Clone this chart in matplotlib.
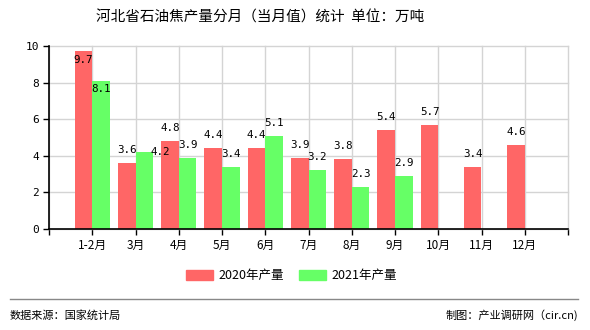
import matplotlib
matplotlib.use("Agg")
import matplotlib.pyplot as plt
from matplotlib.patches import Rectangle
from matplotlib.lines import Line2D
import numpy as np

plt.rcParams['font.family'] = ['Noto Sans CJK SC', 'DejaVu Sans']

categories = ["1-2月", "3月", "4月", "5月", "6月", "7月", "8月", "9月", "10月", "11月", "12月"]
values_2020 = [9.7, 3.6, 4.8, 4.4, 4.4, 3.9, 3.8, 5.4, 5.7, 3.4, 4.6]
values_2021 = [8.1, 4.2, 3.9, 3.4, 5.1, 3.2, 2.3, 2.9, None, None, None]
series_names = ["2020年产量", "2021年产量"]
yticks = [0, 2, 4, 6, 8, 10]

title = "河北省石油焦产量分月（当月值）统计  单位：万吨"
source_left = "数据来源：国家统计局"
source_right = "制图：产业调研网（cir.cn)"

red = "#FF6666"
green = "#66FF66"

fig = plt.figure(figsize=(5.9, 3.3), dpi=100)
ax = fig.add_axes([49/590, 1-229/330, (568-49)/590, (229-46)/330])

x = np.arange(1, len(categories) + 1)
w = 0.405
v20 = np.array(values_2020, dtype=float)
v21 = np.array([np.nan if v is None else v for v in values_2021], dtype=float)

ax.set_axisbelow(True)
ax.grid(True, color="#d4d4d4", linewidth=1, clip_on=False)
b1 = ax.bar(x - w/2, v20, width=w, color=red, zorder=2)
b2 = ax.bar(x + w/2, np.nan_to_num(v21), width=w, color=green, zorder=2)

ax.set_xlim(0, 12)
ax.set_ylim(0, 10)
ax.set_yticks(yticks)
ax.set_xticks(range(0, 13))
ax.set_xticklabels([""] + categories + [""])
ax.tick_params(axis='both', length=4, width=1, color='black', labelsize=8.5, pad=3)
for s in ['top', 'right']:
    ax.spines[s].set_visible(False)
for s in ['left', 'bottom']:
    ax.spines[s].set_color('black')
    ax.spines[s].set_linewidth(1.2)
for lab in ax.get_yticklabels():
    lab.set_fontfamily('DejaVu Sans Mono')
    lab.set_fontsize(8)
for gl in ax.get_xgridlines() + ax.get_ygridlines():
    gl.set_clip_on(False)

# value labels (nudges in pixels for labels moved by the original's overlap logic)
nudge20 = {0: (0, -22)}
nudge21 = {0: (0, -21), 1: (16, -13)}
for i, v in enumerate(v20):
    dx, dy = nudge20.get(i, (0, 0))
    ax.annotate(f"{v:.1f}", (x[i] - w/2, v), xytext=(dx*0.72, (13 + dy)*0.72),
                textcoords='offset points', ha='center', va='center',
                fontsize=7.8, family='DejaVu Sans Mono', zorder=3)
for i, v in enumerate(v21):
    if np.isnan(v):
        continue
    dx, dy = nudge21.get(i, (0, 0))
    ax.annotate(f"{v:.1f}", (x[i] + w/2, v), xytext=(dx*0.72, (13 + dy)*0.72),
                textcoords='offset points', ha='center', va='center',
                fontsize=7.8, family='DejaVu Sans Mono', zorder=3)

fig.text(260/590, 1-18/330, title, ha='center', va='center', fontsize=10.5)

handles = [Rectangle((0, 0), 1, 1, color=red), Rectangle((0, 0), 1, 1, color=green)]
fig.legend(handles, series_names, loc='center', bbox_to_anchor=(291/590, 1-276/330),
           ncol=2, frameon=False, fontsize=9, handlelength=2.2, handleheight=0.8,
           handletextpad=0.4, columnspacing=1.2)

fig.add_artist(Line2D([10/590, 578/590], [1-299/330, 1-299/330], color='#888888',
                      linewidth=1, transform=fig.transFigure))
fig.text(10/590, 1-315/330, source_left, ha='left', va='center', fontsize=8)
fig.text(578/590, 1-315/330, source_right, ha='right', va='center', fontsize=8)

fig.savefig("out.png", dpi=100)
